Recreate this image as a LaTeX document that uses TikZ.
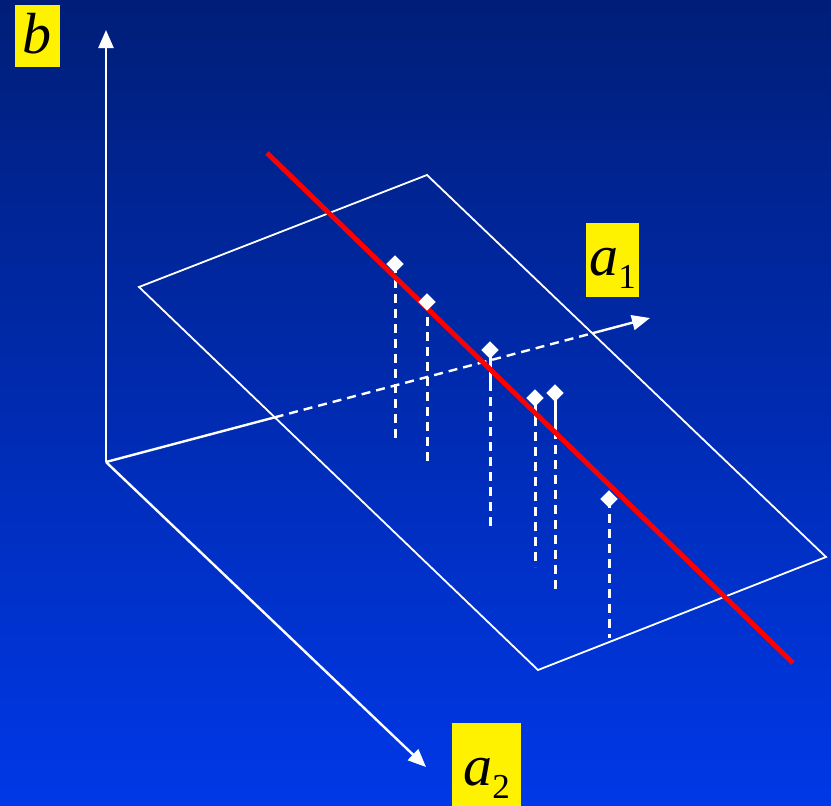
\documentclass[tikz,border=0pt]{standalone}
\usepackage{fontspec}
\setmainfont{Liberation Serif}
\usetikzlibrary{arrows.meta,calc,shapes.geometric}
\definecolor{bgtop}{HTML}{001E78}
\definecolor{bgbot}{HTML}{0038E8}
\definecolor{fitred}{HTML}{FF0000}
\newcommand{\axsub}[1]{\raisebox{-13pt}{\fontsize{35}{35}\selectfont\upshape #1}}

\begin{document}
\begin{tikzpicture}[x=1pt,y=-1pt,
  axis/.style={draw=white, line width=2.4pt},
  axtip/.style={axis, -{Triangle[length=18pt,width=15pt]}},
  planeline/.style={draw=white, line width=1.8pt},
  datapt/.style={diamond, fill=white, inner sep=0pt, minimum size=17pt},
  stemsolid/.style={draw=white, line width=3pt},
  stemdash/.style={draw=white, line width=3pt, dash pattern=on 9pt off 6pt},
  axlabel/.style={fill=yellow, inner sep=0pt, font=\fontsize{58}{58}\selectfont\itshape},
]
% background (pixel frame 831 x 806, y pointing down)
\fill[top color=bgtop, bottom color=bgbot] (0,0) rectangle (831,806);
\useasboundingbox (0,0) rectangle (831,806);

% axes
\coordinate (O) at (106,462);
\coordinate (btip) at (106,30);
\coordinate (aone) at (650,318);
\coordinate (atwo) at (426,767);
\coordinate (ain) at ($(O)!0.31!(aone)$);
\coordinate (aout) at ($(O)!0.894!(aone)$);

% plane
\coordinate (P1) at (139,287);
\coordinate (P2) at (427,175);
\coordinate (P3) at (826,557);
\coordinate (P4) at (538,670);
\draw[planeline] (P1) -- (P2) -- (P3) -- (P4) -- cycle;

\draw[axtip] (O) -- (btip);
\draw[axtip] (O) -- (atwo);
\draw[axis] (O) -- (ain);
\draw[axis, dash pattern=on 9pt off 6pt] (ain) -- (aout);
\draw[axtip] (aout) -- (aone);

% data points with their drop lines
\foreach \n/\x/\y/\m/\e in {
  1/395/264/264/440,
  2/427/302/302/463,
  3/490/350/382/527,
  4/535/398/417/567,
  5/555/393/430/590,
  6/609/499/499/638
} {
  \node[datapt] (p\n) at (\x,\y) {};
  \coordinate (p\n m) at (\x,\m);
  \coordinate (p\n e) at (\x,\e);
  \draw[stemsolid] (p\n.center) -- (p\n m);
  \draw[stemdash] (p\n m) -- (p\n e);
}

% fitted line
\coordinate (fa) at (267,153);
\coordinate (fb) at (793,663);
\draw[fitred, line width=5pt] (fa) -- (fb);
\foreach \n in {1,...,6}
  \fill[white] (p\n.north) -- (p\n.east) -- (p\n.south) -- (p\n.west) -- cycle;

% axis labels
\node[axlabel, minimum width=45pt, minimum height=62pt, text height=36pt, text depth=2pt] (blab) at (37.5,36) {b};
\node[axlabel, minimum width=53pt, minimum height=74pt, text height=40pt, text depth=10pt] (a1lab) at (612.5,260) {a\axsub{1}};
\node[axlabel, minimum width=69pt, minimum height=83pt, text height=45pt, text depth=4pt] (a2lab) at (486.5,764.5) {a\axsub{2}};
\end{tikzpicture}
\end{document}
